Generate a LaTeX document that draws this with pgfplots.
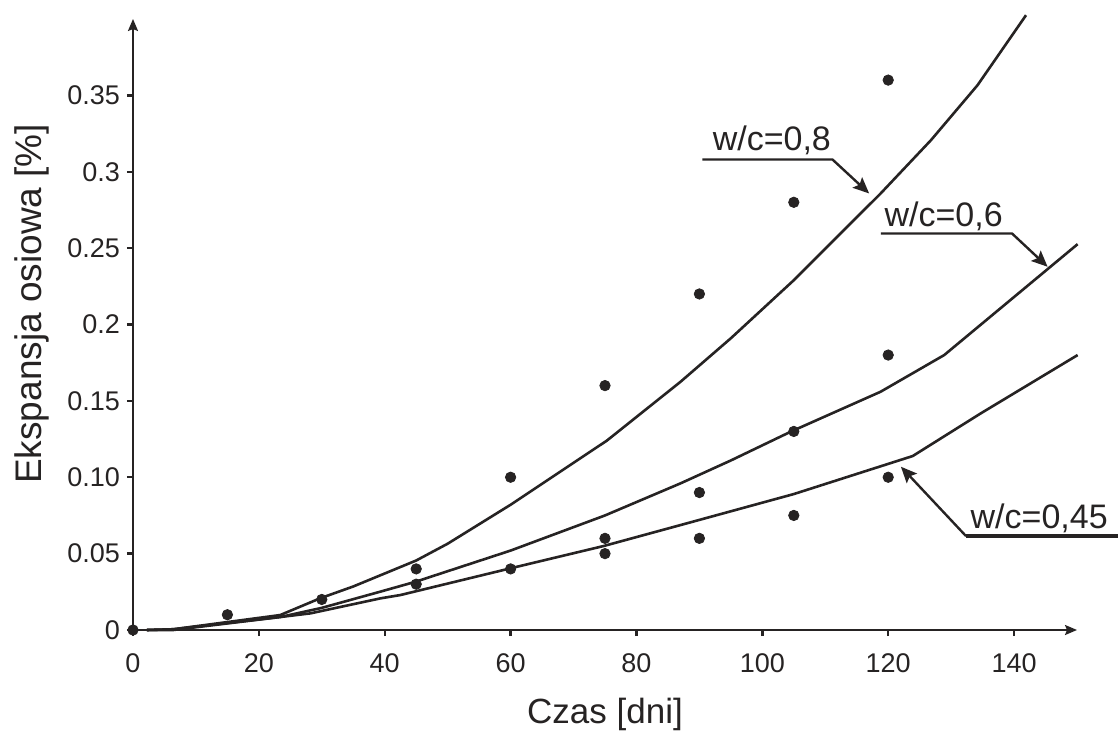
\documentclass[border=0pt]{standalone}
\usepackage{fontspec}
\setmainfont{Liberation Sans}
\usepackage{pgfplots}
\pgfplotsset{compat=1.18}
\usetikzlibrary{arrows.meta}
\definecolor{ink}{RGB}{38,35,35}

% w/c = 0.8
\pgfplotstableread{
x y
2.2 0
6.4 0.0005
23.4 0.0098
29.7 0.0207
35 0.0285
40 0.037
45 0.0455
50 0.0565
60 0.082
75.3 0.124
87 0.1625
95 0.191
105 0.229
118.8 0.2858
126.8 0.3207
134.2 0.3567
141.9 0.4025
}\wcEight
% w/c = 0.6
\pgfplotstableread{
x y
2.2 0
6.4 0.0005
23.4 0.0085
30 0.0145
39.3 0.0251
44.9 0.0316
60 0.052
75 0.075
87 0.096
95 0.111
104.5 0.1298
118.8 0.156
128.9 0.18
150.1 0.2526
}\wcSix
% w/c = 0.45
\pgfplotstableread{
x y
2.2 0
6.4 0
28.2 0.0109
39.3 0.0207
42.5 0.0229
60 0.0404
74.8 0.055
87 0.0687
105 0.089
123.9 0.1139
134.7 0.1418
150.1 0.18
}\wcFour
% measured points
\pgfplotstableread{
x y
0 0
15 0.01
30 0.02
45 0.04
45 0.03
60 0.10
60 0.04
75 0.16
75 0.06
75 0.05
90 0.22
90 0.09
90 0.06
105 0.28
105 0.13
105 0.075
120 0.36
120 0.18
120 0.10
}\pomiary

\begin{document}
\begin{tikzpicture}
\begin{axis}[
    scale only axis,
    width=472pt, height=305.5pt,
    xmin=0, xmax=150, ymin=0, ymax=0.40,
    axis lines=left,
    clip=false,
    axis line style={ink, line width=1pt, -{Stealth[length=6pt,width=5pt,inset=1pt]}},
    tick align=outside,
    major tick length=3pt,
    tick style={ink, line width=1.2pt},
    xtick={0,20,40,60,80,100,120,140},
    xticklabels={0,20,40,60,80,100,120,140},
    ytick={0,0.05,0.10,0.15,0.2,0.25,0.3,0.35},
    yticklabels={0,0.05,0.10,0.15,0.2,0.25,0.3,0.35},
    ticklabel style={font=\fontsize{13.5}{16}\selectfont, text=ink},
    xticklabel style={yshift=-5.5pt},
    xlabel={Czas [dni]},
    ylabel={Ekspansja osiowa [\%]},
    xlabel style={at={(axis description cs:0.5,-0.1522)}, anchor=base,
        font=\fontsize{17.5}{21}\selectfont, text=ink},
    ylabel style={at={(axis description cs:-0.0964,0.534)}, anchor=base,
        font=\fontsize{18.5}{22}\selectfont, text=ink},
]
\addplot[ink, line width=1.3pt, no markers] table {\wcEight};
\addplot[ink, line width=1.3pt, no markers] table {\wcSix};
\addplot[ink, line width=1.3pt, no markers] table {\wcFour};
\addplot[only marks, mark=*, mark size=2.6pt, ink, mark options={fill=ink, draw=ink}] table {\pomiary};

% annotations
\draw[ink, line width=1.2pt, -{Stealth[length=8pt,width=7pt,inset=1.5pt]}]
    (axis cs:90.47,0.308) -- (axis cs:111.15,0.308) -- (axis cs:116.97,0.2858);
\node[anchor=base west, inner sep=0pt, text=ink, font=\fontsize{17}{20}\selectfont]
    at (axis cs:92.06,0.3141) {w/c=0,8};

\draw[ink, line width=1.2pt, -{Stealth[length=8pt,width=7pt,inset=1.5pt]}]
    (axis cs:118.84,0.2596) -- (axis cs:139.67,0.2596) -- (axis cs:145.33,0.2378);
\node[anchor=base west, inner sep=0pt, text=ink, font=\fontsize{17}{20}\selectfont]
    at (axis cs:119.36,0.2639) {w/c=0,6};

\draw[ink, line width=1.8pt] (axis cs:132.36,0.0615) -- (axis cs:157,0.0615);
\draw[ink, line width=1.2pt, -{Stealth[length=8pt,width=7pt,inset=1.5pt]}]
    (axis cs:132.36,0.0615) -- (axis cs:122.02,0.1069);
\node[anchor=base west, inner sep=0pt, text=ink, font=\fontsize{17}{20}\selectfont]
    at (axis cs:133.04,0.0666) {w/c=0,45};
\end{axis}
\pgfresetboundingbox
\path[use as bounding box] (-66.5pt,-52.5pt) rectangle (492.5pt,315pt);
\end{tikzpicture}
\end{document}
